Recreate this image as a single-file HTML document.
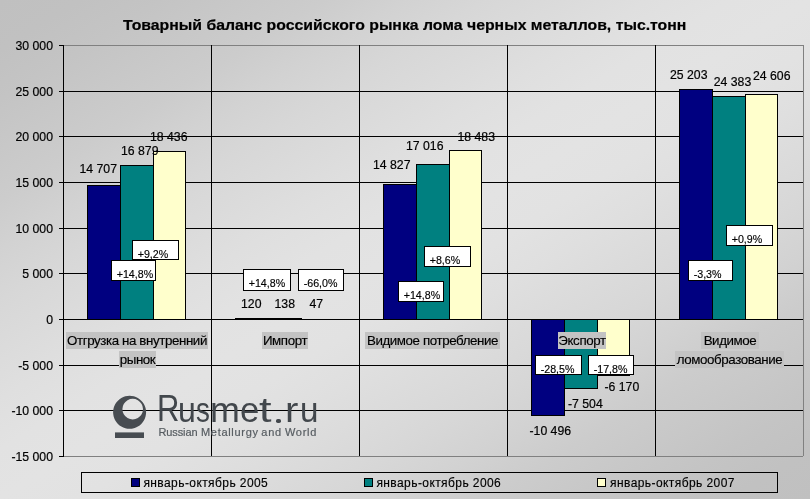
<!DOCTYPE html>
<html><head><meta charset="utf-8"><title>Chart</title>
<style>
html,body{margin:0;padding:0;}
body{width:810px;height:499px;overflow:hidden;font-family:"Liberation Sans",sans-serif;color:#000;}
#c{position:relative;width:810px;height:499px;overflow:hidden;background:linear-gradient(to bottom right,#c0c0c0 0%,#c1c1c1 5%,#c4c4c4 10%,#c8c8c8 15%,#cccccc 20%,#d2d2d2 25%,#d7d7d7 30%,#dbdbdb 35%,#dfdfdf 40%,#e2e2e2 45%,#e3e3e3 50%,#e2e2e2 55%,#dfdfdf 60%,#dbdbdb 65%,#d7d7d7 70%,#d2d2d2 75%,#cccccc 80%,#c8c8c8 85%,#c4c4c4 90%,#c1c1c1 95%,#c0c0c0 100%);}
#c div,#c span{position:absolute;white-space:nowrap;}
.h{left:59px;width:744px;height:1px;background:#000;}
.v{top:45px;width:1px;height:411px;background:#000;}
.yl{right:757px;font-size:12.25px;line-height:12px;text-align:right;-webkit-text-stroke:0.2px #000;}
.b{box-sizing:border-box;border:1px solid #000;}
.n{background:#000080;}
.t{background:#008080;}
.y{background:#ffffcc;}
.dl{font-size:12.25px;line-height:12px;-webkit-text-stroke:0.2px #000;}
.pb{box-sizing:border-box;border:1px solid #000;background:#fff;font-size:10.67px;line-height:18px;text-align:left;padding:4px 0 0 4.7px;height:20px;-webkit-text-stroke:0.15px #000;}
.cl{font-size:13.33px;line-height:17px;height:17px;background:#c3c3c3;text-align:center;letter-spacing:-0.4px;-webkit-text-stroke:0.15px #000;}
.lg{font-size:12px;line-height:12px;letter-spacing:0.42px;-webkit-text-stroke:0.15px #000;}
.k{box-sizing:border-box;border:1px solid #000;width:9px;height:9px;top:478px;}
.lt{top:389.9px;font-size:35.5px;line-height:40px;color:#42474c;transform-origin:0 0;}
.sb{top:425.3px;font-size:11px;line-height:14px;color:#565c61;-webkit-text-stroke:0.2px #565c61;}
#o{left:0;top:0;width:810px;height:499px;will-change:transform;}
</style></head><body><div id="c"><div id="o">
<div style="left:122.5px;top:16px;font-weight:bold;font-size:14px;line-height:18px;-webkit-text-stroke:0.2px #000;transform-origin:0 0;transform:scaleX(1.129);">Товарный баланс российского рынка лома черных металлов, тыс.тонн</div>
<div class="h" style="top:45px;background:#808080;"></div>
<div style="left:59px;top:45px;width:5px;height:1px;background:#000;"></div>
<div class="yl" style="top:40px;">30 000</div>
<div class="h" style="top:91px;background:#000;"></div>
<div style="left:59px;top:91px;width:5px;height:1px;background:#000;"></div>
<div class="yl" style="top:86px;">25 000</div>
<div class="h" style="top:136px;background:#000;"></div>
<div style="left:59px;top:136px;width:5px;height:1px;background:#000;"></div>
<div class="yl" style="top:131px;">20 000</div>
<div class="h" style="top:182px;background:#000;"></div>
<div style="left:59px;top:182px;width:5px;height:1px;background:#000;"></div>
<div class="yl" style="top:177px;">15 000</div>
<div class="h" style="top:228px;background:#000;"></div>
<div style="left:59px;top:228px;width:5px;height:1px;background:#000;"></div>
<div class="yl" style="top:223px;">10 000</div>
<div class="h" style="top:273px;background:#000;"></div>
<div style="left:59px;top:273px;width:5px;height:1px;background:#000;"></div>
<div class="yl" style="top:268px;">5 000</div>
<div class="h" style="top:319px;background:#000;"></div>
<div style="left:59px;top:319px;width:5px;height:1px;background:#000;"></div>
<div class="yl" style="top:314px;">0</div>
<div class="h" style="top:365px;background:#000;"></div>
<div style="left:59px;top:365px;width:5px;height:1px;background:#000;"></div>
<div class="yl" style="top:360px;">-5 000</div>
<div class="h" style="top:410px;background:#000;"></div>
<div style="left:59px;top:410px;width:5px;height:1px;background:#000;"></div>
<div class="yl" style="top:405px;">-10 000</div>
<div class="h" style="top:456px;background:#808080;"></div>
<div style="left:59px;top:456px;width:5px;height:1px;background:#000;"></div>
<div class="yl" style="top:451px;">-15 000</div>
<div class="v" style="left:63px;background:#000;"></div>
<div class="v" style="left:211px;background:#000;"></div>
<div class="v" style="left:359px;background:#000;"></div>
<div class="v" style="left:507px;background:#000;"></div>
<div class="v" style="left:655px;background:#000;"></div>
<div class="v" style="left:803px;background:#808080;"></div>
<div class="b n" style="left:87px;top:185px;width:34px;height:135px;"></div>
<div class="b t" style="left:120px;top:165px;width:34px;height:155px;"></div>
<div class="b y" style="left:153px;top:151px;width:33px;height:169px;"></div>
<div class="b n" style="left:235px;top:318px;width:34px;height:2px;"></div>
<div class="b t" style="left:268px;top:318px;width:34px;height:2px;"></div>
<div class="b n" style="left:383px;top:184px;width:34px;height:136px;"></div>
<div class="b t" style="left:416px;top:164px;width:34px;height:156px;"></div>
<div class="b y" style="left:449px;top:150px;width:33px;height:170px;"></div>
<div class="b n" style="left:531px;top:319px;width:34px;height:97px;"></div>
<div class="b t" style="left:564px;top:319px;width:34px;height:70px;"></div>
<div class="b y" style="left:597px;top:319px;width:33px;height:57px;"></div>
<div class="b n" style="left:679px;top:89px;width:34px;height:231px;"></div>
<div class="b t" style="left:712px;top:96px;width:34px;height:224px;"></div>
<div class="b y" style="left:745px;top:94px;width:33px;height:226px;"></div>
<div style="left:235px;top:318px;width:66px;height:1px;background:#000;"></div>
<div class="dl" style="left:79.5px;top:163px;">14 707</div>
<div class="dl" style="left:121px;top:145px;">16 879</div>
<div class="dl" style="left:150px;top:131px;">18 436</div>
<div class="dl" style="left:241px;top:298px;">120</div>
<div class="dl" style="left:274.5px;top:298px;">138</div>
<div class="dl" style="left:309.5px;top:298px;">47</div>
<div class="dl" style="left:373px;top:159px;">14 827</div>
<div class="dl" style="left:406px;top:140px;">17 016</div>
<div class="dl" style="left:457.5px;top:131px;">18 483</div>
<div class="dl" style="left:529.5px;top:425px;">-10 496</div>
<div class="dl" style="left:568px;top:398px;">-7 504</div>
<div class="dl" style="left:604.5px;top:381px;">-6 170</div>
<div class="dl" style="left:670px;top:69px;">25 203</div>
<div class="dl" style="left:713.75px;top:76px;">24 383</div>
<div class="dl" style="left:753px;top:70px;">24 606</div>
<div class="cl" style="left:66px;top:332px;width:142px;">Отгрузка на внутренний</div>
<div class="cl" style="left:119px;top:351px;width:37px;">рынок</div>
<div class="cl" style="left:262px;top:332px;width:46px;">Импорт</div>
<div class="cl" style="left:365px;top:332px;width:135px;">Видимое потребление</div>
<div class="cl" style="left:558px;top:332px;width:48px;">Экспорт</div>
<div class="cl" style="left:701px;top:332px;width:58px;">Видимое</div>
<div class="cl" style="left:675px;top:351px;width:109px;">ломообразование</div>
<div class="pb" style="left:132px;top:240px;width:47px;height:20px;">+9,2%</div>
<div class="pb" style="left:111px;top:260px;width:45px;height:21px;">+14,8%</div>
<div class="pb" style="left:243px;top:269px;width:48px;height:22px;">+14,8%</div>
<div class="pb" style="left:298px;top:269px;width:46px;height:22px;">-66,0%</div>
<div class="pb" style="left:424px;top:246px;width:47px;height:21px;">+8,6%</div>
<div class="pb" style="left:398px;top:281px;width:46px;height:21px;">+14,8%</div>
<div class="pb" style="left:535px;top:355px;width:47px;height:20px;">-28,5%</div>
<div class="pb" style="left:588px;top:355px;width:46px;height:20px;">-17,8%</div>
<div class="pb" style="left:688px;top:260px;width:45px;height:21px;">-3,3%</div>
<div class="pb" style="left:726px;top:225px;width:47px;height:21px;">+0,9%</div>
<svg style="position:absolute;left:105px;top:388px;" width="60" height="57" viewBox="105 388 60 57">
<path fill="#474c51" fill-rule="evenodd" d="M129.6 395.8a16.5 16.5 0 1 0 0.001 0zM132.7 398.8a10.3 10.3 0 1 1 -0.001 0z"/>
<rect x="115" y="432.4" width="29" height="5.6" fill="#474c51"/>
</svg>
<div class="lt" style="left:156.66px;font-size:37px;top:389.4px;transform:scaleX(0.838);">R</div><div class="lt" style="left:177.62px;transform:scaleX(0.902);">u</div><div class="lt" style="left:195.63px;transform:scaleX(0.782);">s</div><div class="lt" style="left:210.32px;transform:scaleX(1.009);">m</div><div class="lt" style="left:239.82px;transform:scaleX(0.979);">e</div><div class="lt" style="left:259.02px;transform:scaleX(1.269);">t</div><div class="lt" style="left:285.34px;transform:scaleX(1.127);">r</div><div class="lt" style="left:300.04px;transform:scaleX(0.935);">u</div><div style="left:275.5px;top:418.7px;width:5.6px;height:4.2px;border-radius:1.8px;background:#42474c;"></div>
<div class="sb" style="left:158.4px;letter-spacing:-0.09px;">Russian</div><div class="sb" style="left:201.0px;letter-spacing:0.69px;">Metallurgy</div><div class="sb" style="left:261.3px;letter-spacing:0.72px;">and</div><div class="sb" style="left:285.0px;letter-spacing:0.69px;">World</div>
<div style="left:81px;top:472px;width:697px;height:21px;box-sizing:border-box;border:1px solid #000;"></div>
<div class="k n" style="left:131px;"></div><div class="lg" style="left:143.4px;top:477px;">январь-октябрь 2005</div>
<div class="k t" style="left:364px;"></div><div class="lg" style="left:376.4px;top:477px;">январь-октябрь 2006</div>
<div class="k y" style="left:597px;"></div><div class="lg" style="left:610px;top:477px;">январь-октябрь 2007</div>
</div></div></body></html>
